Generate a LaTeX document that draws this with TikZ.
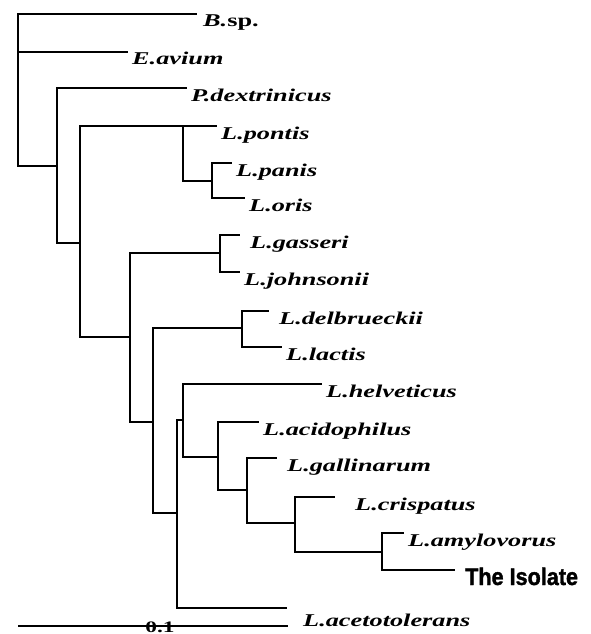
\documentclass[tikz,border=0pt]{standalone}
\usepackage{fontspec}
\setmainfont{Liberation Serif}
\newfontfamily\isofont[BoldFeatures={FakeBold=1.6}]{Liberation Sans}
\usepackage{tikz}
\usetikzlibrary{positioning}

\newcommand{\taxname}[1]{\scalebox{1.46}[1]{#1}}
\tikzset{
  branch/.style={line width=2pt},
  taxon/.style={anchor=base west, inner sep=0pt, xshift=4pt, yshift=-13pt,
    font=\fontsize{18}{20}\selectfont\bfseries\itshape},
  isolate/.style={anchor=base west, inner sep=0pt, xshift=10pt, yshift=-15pt,
    font=\fontsize{24}{26}\selectfont\isofont\bfseries}
}

\begin{document}
\begin{tikzpicture}[x=1pt,y=-1pt]
\useasboundingbox (0,0) rectangle (590,634);

\coordinate (root) at (18,90);
\coordinate (nA) at (57,166);
\coordinate (nB) at (80,243);
\coordinate (nP) at (183,126);
\coordinate (nPO) at (212,181);
\coordinate (nC) at (130,337);
\coordinate (nGJ) at (220,253);
\coordinate (nD) at (153,422);
\coordinate (nDL) at (242,328);
\coordinate (nE) at (177,513);
\coordinate (nF) at (183,420);
\coordinate (nG) at (218,457);
\coordinate (nH) at (247,490);
\coordinate (nI) at (295,523);
\coordinate (nJ) at (382,552);

\coordinate (bsp) at (197,14);
\coordinate (eav) at (128,52);
\coordinate (pdex) at (187,88);
\coordinate (pont) at (217,126);
\coordinate (pan) at (232,163);
\coordinate (ori) at (245,198);
\coordinate (gas) at (240,235);
\coordinate (joh) at (240,272);
\coordinate (del) at (269,311);
\coordinate (lac) at (282,347);
\coordinate (hel) at (322,384);
\coordinate (aci) at (259,422);
\coordinate (gal) at (277,458);
\coordinate (cri) at (335,497);
\coordinate (amy) at (404,533);
\coordinate (iso) at (455,570);
\coordinate (ace) at (287,608);

\foreach \p/\c in {root/bsp, root/eav, root/nA, nA/pdex, nA/nB, nB/nP, nB/nC,
    nP/pont, nP/nPO, nPO/pan, nPO/ori, nC/nGJ, nC/nD, nGJ/gas, nGJ/joh,
    nD/nDL, nD/nE, nDL/del, nDL/lac, nE/nF, nE/ace, nF/hel, nF/nG,
    nG/aci, nG/nH, nH/gal, nH/nI, nI/cri, nI/nJ, nJ/amy, nJ/iso}
  \draw[branch] (\p) |- (\c);

\node[taxon, xshift=2pt] (tbsp) at (bsp) {\taxname{B.\textup{sp.}}};
\node[taxon] (teav) at (eav) {\taxname{E.avium}};
\node[taxon] (tpdex) at (pdex) {\taxname{P.dextrinicus}};
\node[taxon] (tpont) at (pont) {\taxname{L.pontis}};
\node[taxon] (tpan) at (pan) {\taxname{L.panis}};
\node[taxon] (tori) at (ori) {\taxname{L.oris}};
\node[taxon, xshift=6pt] (tgas) at (gas) {\taxname{L.gasseri}};
\node[taxon] (tjoh) at (joh) {\taxname{L.johnsonii}};
\node[taxon, xshift=6pt] (tdel) at (del) {\taxname{L.delbrueckii}};
\node[taxon] (tlac) at (lac) {\taxname{L.lactis}};
\node[taxon] (thel) at (hel) {\taxname{L.helveticus}};
\node[taxon] (taci) at (aci) {\taxname{L.acidophilus}};
\node[taxon, xshift=6pt] (tgal) at (gal) {\taxname{L.gallinarum}};
\node[taxon, xshift=16pt] (tcri) at (cri) {\taxname{L.crispatus}};
\node[taxon] (tamy) at (amy) {\taxname{L.amylovorus}};
\node[isolate] (tiso) at (iso) {\scalebox{0.9}[1]{The Isolate}};
\node[taxon, xshift=12pt, yshift=-5pt] (tace) at (ace) {\taxname{L.acetotolerans}};

\coordinate (sbl) at (18,626);
\coordinate (sbr) at (288,626);
\draw[branch] (sbl) -- (sbr);
\node[anchor=base, inner sep=0pt, font=\fontsize{16}{18}\selectfont\bfseries] (sblab) at (160,632) {\taxname{0.1}};
\end{tikzpicture}
\end{document}
